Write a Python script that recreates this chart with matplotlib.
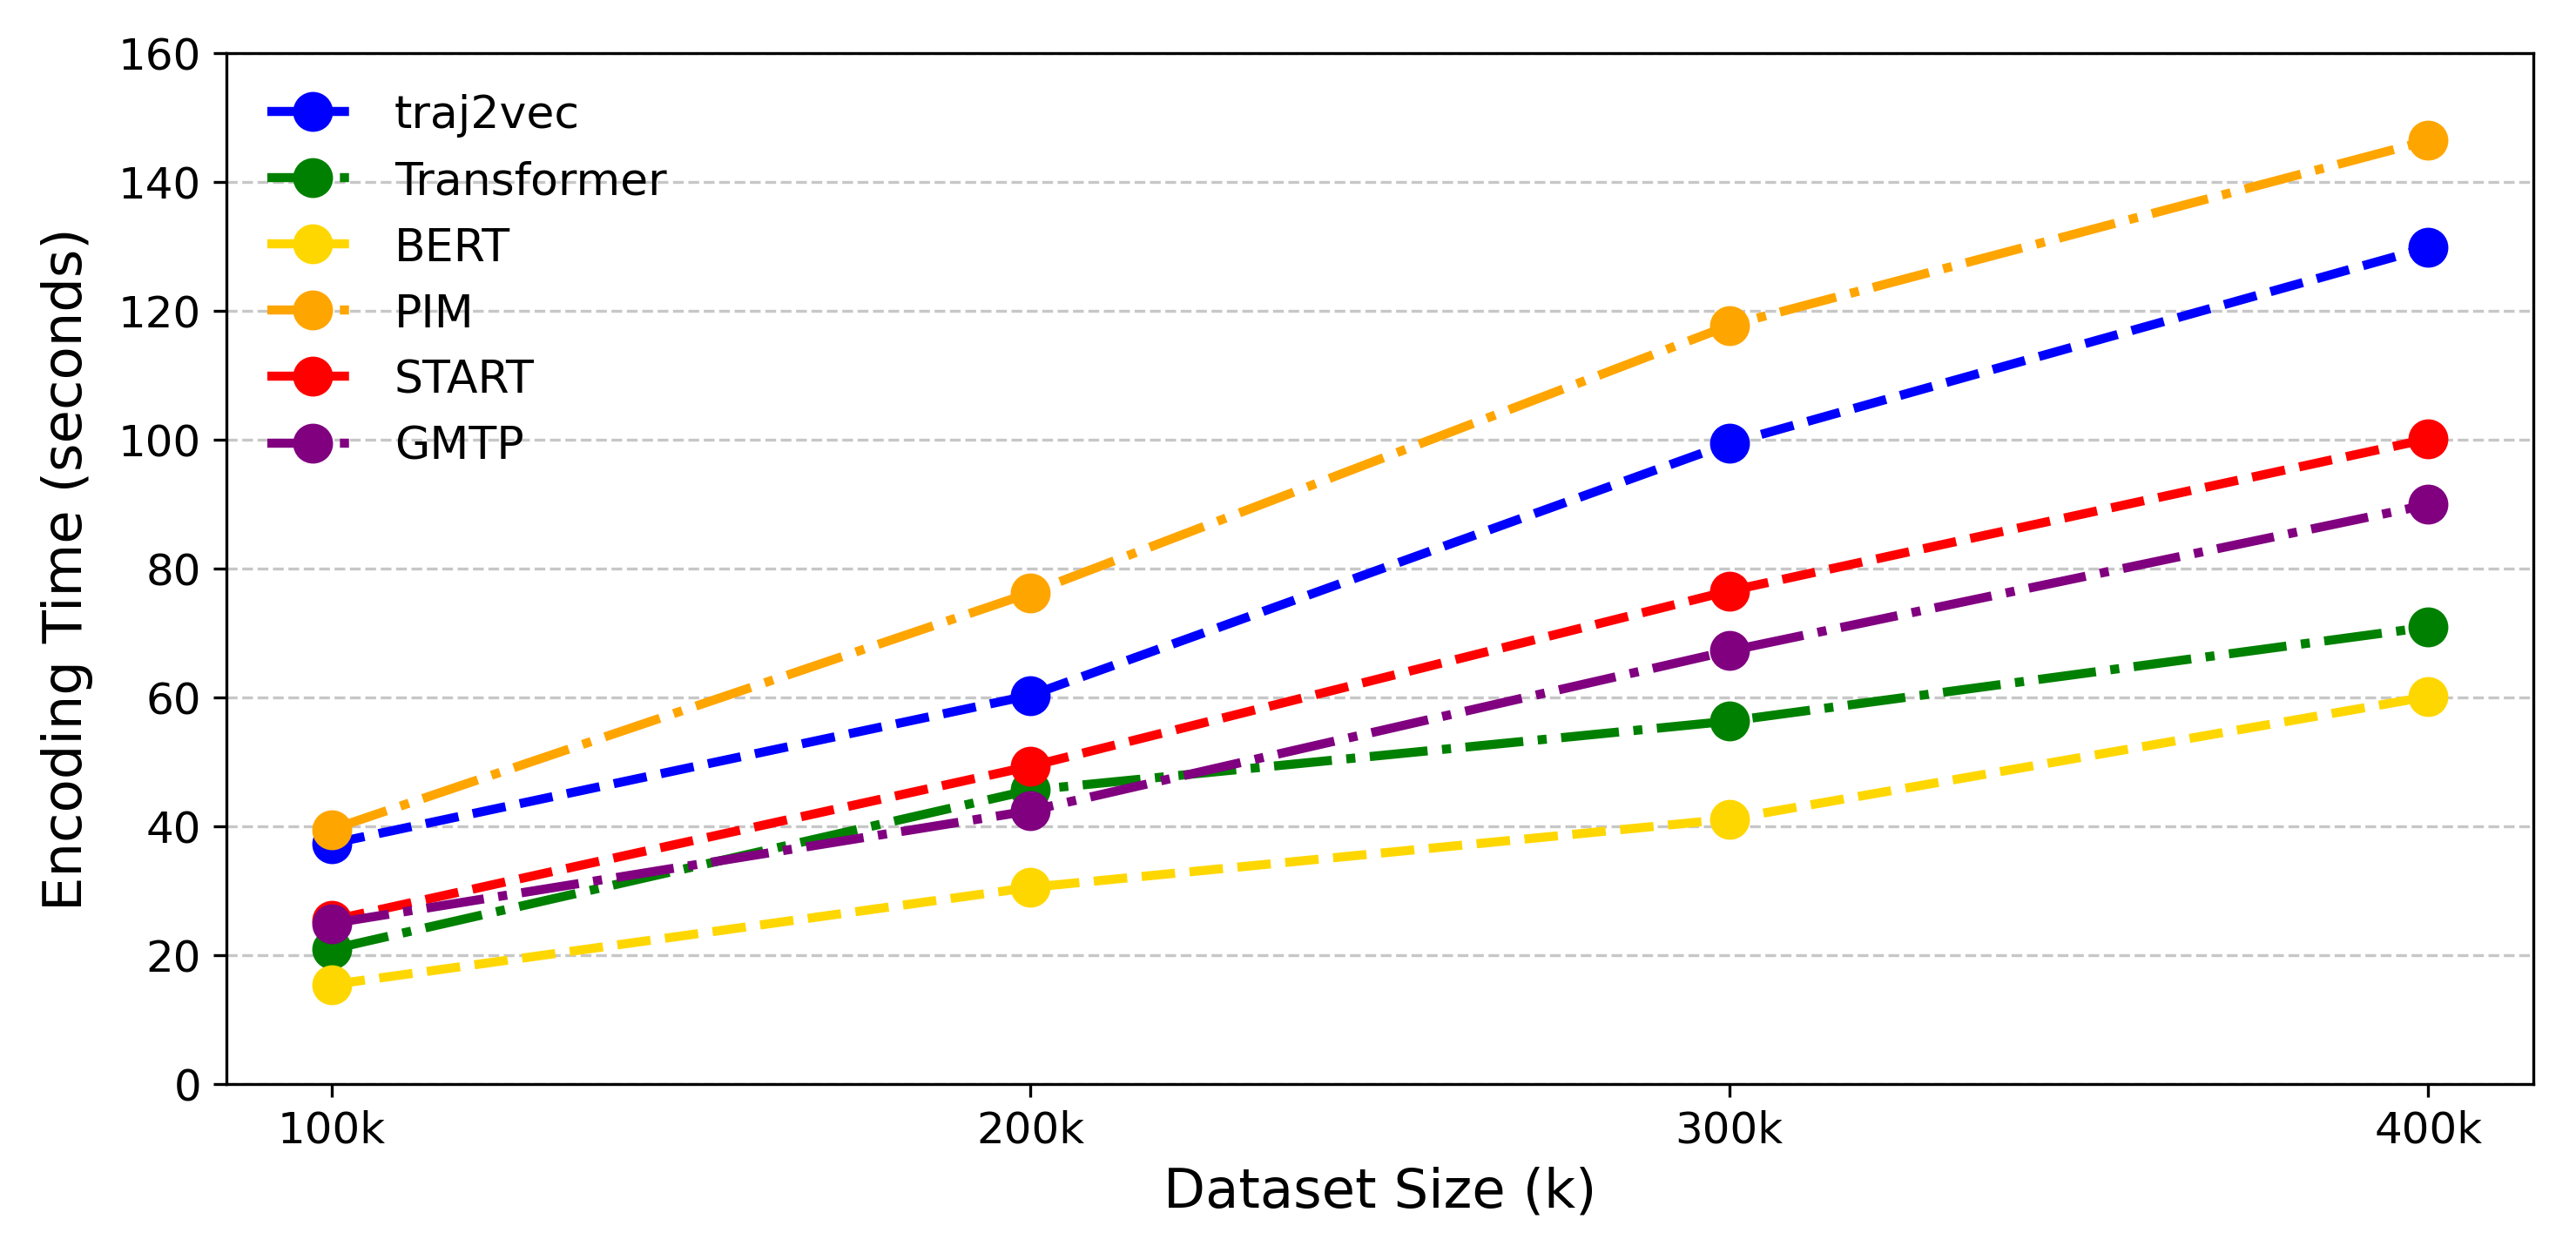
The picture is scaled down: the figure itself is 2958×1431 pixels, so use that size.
import matplotlib
matplotlib.use("Agg")
import matplotlib.pyplot as plt

# dataset sizes (k) and encoding times (seconds)
sizes = [100, 200, 300, 400]
size_labels = ["100k", "200k", "300k", "400k"]

traj2vec = [37.3, 60.3, 99.4, 129.8]
transformer = [20.9, 45.6, 56.3, 70.9]
bert = [15.4, 30.5, 41.1, 60.1]
pim = [39.5, 76.2, 117.7, 146.4]
start = [25.4, 49.3, 76.5, 100.1]
gmtp = [24.9, 42.4, 67.2, 89.9]

methods = ["traj2vec", "Transformer", "BERT", "PIM", "START", "GMTP"]
values = [traj2vec, transformer, bert, pim, start, gmtp]
colors = ["blue", "green", "gold", "orange", "red", "purple"]
styles = ["--", "-.", "--", "-.", "--", "-."]

fig = plt.figure(figsize=(9.863, 4.773), dpi=300)
ax = fig.add_subplot(111)
fig.subplots_adjust(left=0.088, right=0.983, top=0.957, bottom=0.13)

for name, y, c, ls in zip(methods, values, colors, styles):
    ax.plot(sizes, y, linestyle=ls, marker="o", color=c, label=name,
            linewidth=2.5, markersize=10)

ax.set_xticks(sizes)
ax.set_xticklabels(size_labels, fontsize=12)
ax.set_ylim(0, 160)
ax.tick_params(axis="y", labelsize=12)
ax.set_xlabel("Dataset Size (k)", fontsize=15)
ax.set_ylabel("Encoding Time (seconds)", fontsize=15, labelpad=7)
ax.grid(axis="y", linestyle="--", alpha=0.7)
ax.legend(loc="upper left", fontsize=12.5, frameon=False)

plt.savefig("out.png", dpi=300)
